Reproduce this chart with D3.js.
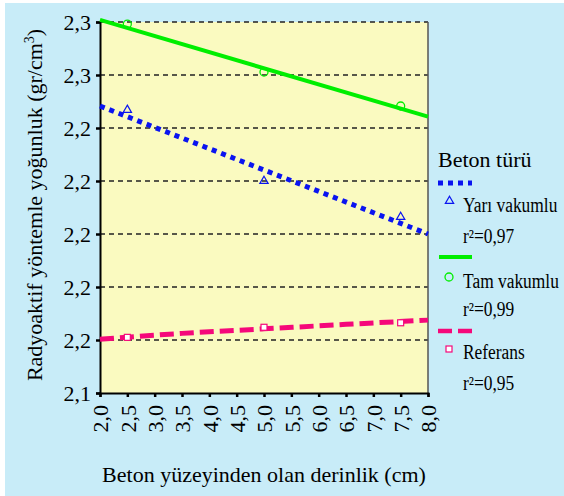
<!DOCTYPE html>
<html>
<head>
    <meta charset="utf-8">
</head>
<body style="margin:0">
<svg width="564" height="496" font-family="Liberation Serif"></svg>

<script src="https://d3js.org/d3.v7.min.js"></script>
<script>
    // data
    let depths = [2.5, 5.0, 7.5]
    let yariVakumlu = [2.2468, 2.2200, 2.2064]
    let tamVakumlu = [2.2792, 2.2611, 2.2483]
    let referans = [2.1610, 2.1648, 2.1665]

    // trend lines (fitted values at the given depths)
    let trendX = [2.0, 8.0]
    let yariTrend = [2.2483, 2.2000]
    let tamTrend = [2.2808, 2.2443]
    let refTrendX = [2.0, 3.5, 5.0, 6.5, 8.0]
    let refTrend = [2.1603, 2.1625, 2.1642, 2.1659, 2.1675]

    let xTicks = [2.0, 2.5, 3.0, 3.5, 4.0, 4.5, 5.0, 5.5, 6.0, 6.5, 7.0, 7.5, 8.0]
    let xTickLabels = ["2,0", "2,5", "3,0", "3,5", "4,0", "4,5", "5,0", "5,5", "6,0", "6,5", "7,0", "7,5", "8,0"]
    let yTicks = [2.14, 2.16, 2.18, 2.20, 2.22, 2.24, 2.26, 2.28]
    let yTickLabels = ["2,1", "2,2", "2,2", "2,2", "2,2", "2,2", "2,3", "2,3"]

    let legendNames = ["Yarı vakumlu", "Tam vakumlu", "Referans"]
    let legendR2 = ["r²=0,97", "r²=0,99", "r²=0,95"]

    let svg = d3.select("svg")
    let serif = "'Liberation Serif'"

    let plotLeft = 100, plotRight = 428, plotTop = 22, plotBottom = 393

    let x = d3.scaleLinear().domain([2.0, 8.0]).range([plotLeft, plotRight])
    let y = d3.scaleLinear().domain([2.14, 2.28]).range([plotBottom, plotTop])

    let blue = "#0a14f0", green = "#00ee00", pink = "#f5087a"

    // backgrounds
    svg.append("rect").attr("x", 5).attr("y", 3).attr("width", 559).attr("height", 493)
        .attr("fill", "#c8ecf8")
    svg.append("rect").attr("x", plotLeft).attr("y", plotTop)
        .attr("width", plotRight - plotLeft).attr("height", plotBottom - plotTop)
        .attr("fill", "#fafac0")

    // dashed grid lines
    svg.append("g")
        .selectAll("line")
        .data(yTicks.slice(1))
        .join("line")
        .attr("x1", plotLeft).attr("x2", plotRight)
        .attr("y1", d => y(d)).attr("y2", d => y(d))
        .attr("stroke", "#222")
        .attr("stroke-width", 1.3)
        .attr("stroke-dasharray", "5,4")

    // right border
    svg.append("line").attr("x1", plotRight).attr("x2", plotRight).attr("y1", plotTop).attr("y2", plotBottom)
        .attr("stroke", "#555").attr("stroke-width", 1.5)

    // y axis
    let yAxis = svg.append("g")
        .attr("transform", `translate(${plotLeft},0)`)
        .call(d3.axisLeft(y).tickValues(yTicks).tickSize(4).tickPadding(5)
            .tickFormat((d, i) => yTickLabels[i]))
        .attr("font-family", "Liberation Serif")
        .attr("font-size", 22)
    yAxis.select(".domain").attr("stroke", "black").attr("stroke-width", 2)
    yAxis.selectAll(".tick line").attr("stroke", "black").attr("stroke-width", 2.5)
    yAxis.selectAll(".tick text").attr("fill", "black")

    // x axis
    let xAxis = svg.append("g")
        .attr("transform", `translate(0,${plotBottom})`)
        .call(d3.axisBottom(x).tickValues(xTicks).tickSize(4).tickPadding(4)
            .tickFormat((d, i) => xTickLabels[i]))
        .attr("font-family", "Liberation Serif")
        .attr("font-size", 22)
    xAxis.select(".domain").attr("stroke", "black").attr("stroke-width", 2)
    xAxis.selectAll(".tick line").attr("stroke", "black").attr("stroke-width", 2.5)
    xAxis.selectAll(".tick text")
        .attr("fill", "black")
        .attr("transform", "rotate(-90)")
        .attr("text-anchor", "end")
        .attr("x", -12).attr("y", 0).attr("dy", "0.35em")

    // trend lines
    let line = d3.line().x(d => x(d[0])).y(d => y(d[1]))

    svg.append("path")
        .attr("d", line(d3.zip(trendX, tamTrend)))
        .attr("fill", "none").attr("stroke", green).attr("stroke-width", 4)

    svg.append("path")
        .attr("d", line(d3.zip(trendX, yariTrend)))
        .attr("fill", "none").attr("stroke", blue).attr("stroke-width", 5)
        .attr("stroke-dasharray", "5,5")

    svg.append("path")
        .attr("d", line.curve(d3.curveMonotoneX)(d3.zip(refTrendX, refTrend)))
        .attr("fill", "none").attr("stroke", pink).attr("stroke-width", 5)
        .attr("stroke-dasharray", "14,6")

    // markers
    let triangle = d3.symbol().type(d3.symbolTriangle).size(30)

    svg.append("g")
        .selectAll("path")
        .data(d3.zip(depths, yariVakumlu))
        .join("path")
        .attr("d", triangle)
        .attr("transform", d => `translate(${x(d[0])},${y(d[1])})`)
        .attr("fill", "none").attr("stroke", blue).attr("stroke-width", 1.2)

    svg.append("g")
        .selectAll("circle")
        .data(d3.zip(depths, tamVakumlu))
        .join("circle")
        .attr("cx", d => x(d[0])).attr("cy", d => y(d[1])).attr("r", 4)
        .attr("fill", "none").attr("stroke", green).attr("stroke-width", 1.3)

    svg.append("g")
        .selectAll("rect")
        .data(d3.zip(depths, referans))
        .join("rect")
        .attr("x", d => x(d[0]) - 3).attr("y", d => y(d[1]) - 3)
        .attr("width", 6).attr("height", 6)
        .attr("fill", "white").attr("stroke", pink).attr("stroke-width", 1.2)

    // axis titles
    svg.append("text")
        .attr("transform", "translate(42,205) rotate(-90)")
        .attr("text-anchor", "middle")
        .attr("font-size", 22)
        .style("font-family", serif)
        .html("Radyoaktif yöntemle yoğunluk (gr/cm<tspan dy='-8' font-size='14'>3</tspan><tspan dy='8'>)</tspan>")

    svg.append("text")
        .attr("x", (plotLeft + plotRight) / 2).attr("y", 482)
        .attr("text-anchor", "middle")
        .attr("font-size", 22)
        .style("font-family", serif)
        .text("Beton yüzeyinden olan derinlik (cm)")

    // legend
    let legend = svg.append("g")
    legend.append("text").attr("x", 438).attr("y", 167).attr("font-size", 22)
        .style("font-family", serif).text("Beton türü")

    let nameY = [212, 288, 359]
    let r2Y = [243, 316, 390]
    let sampleY = [183, 257, 331]
    let markY = [201, 277, 349]

    // samples
    legend.append("line").attr("x1", 438).attr("x2", 472).attr("y1", sampleY[0]).attr("y2", sampleY[0])
        .attr("stroke", blue).attr("stroke-width", 5).attr("stroke-dasharray", "5,5")
    legend.append("line").attr("x1", 439).attr("x2", 472).attr("y1", sampleY[1]).attr("y2", sampleY[1])
        .attr("stroke", green).attr("stroke-width", 4)
    legend.append("line").attr("x1", 438).attr("x2", 472).attr("y1", sampleY[2]).attr("y2", sampleY[2])
        .attr("stroke", pink).attr("stroke-width", 4.5).attr("stroke-dasharray", "14,6")

    legend.append("path").attr("d", triangle)
        .attr("transform", `translate(449.5,${markY[0]})`)
        .attr("fill", "none").attr("stroke", blue).attr("stroke-width", 1.2)
    legend.append("circle").attr("cx", 449).attr("cy", markY[1]).attr("r", 4)
        .attr("fill", "none").attr("stroke", green).attr("stroke-width", 1.3)
    legend.append("rect").attr("x", 446).attr("y", markY[2] - 3).attr("width", 6).attr("height", 6)
        .attr("fill", "white").attr("stroke", pink).attr("stroke-width", 1.2)

    legend.selectAll(".name")
        .data(legendNames)
        .join("text")
        .attr("class", "name")
        .attr("transform", (d, i) => `translate(463,${nameY[i]}) scale(0.87,1)`)
        .attr("font-size", 20)
        .style("font-family", serif)
        .text(d => d)

    legend.selectAll(".r2")
        .data(legendR2)
        .join("text")
        .attr("class", "r2")
        .attr("transform", (d, i) => `translate(463,${r2Y[i]}) scale(0.87,1)`)
        .attr("font-size", 20)
        .style("font-family", serif)
        .text(d => d)
</script>
</body>
</html>
